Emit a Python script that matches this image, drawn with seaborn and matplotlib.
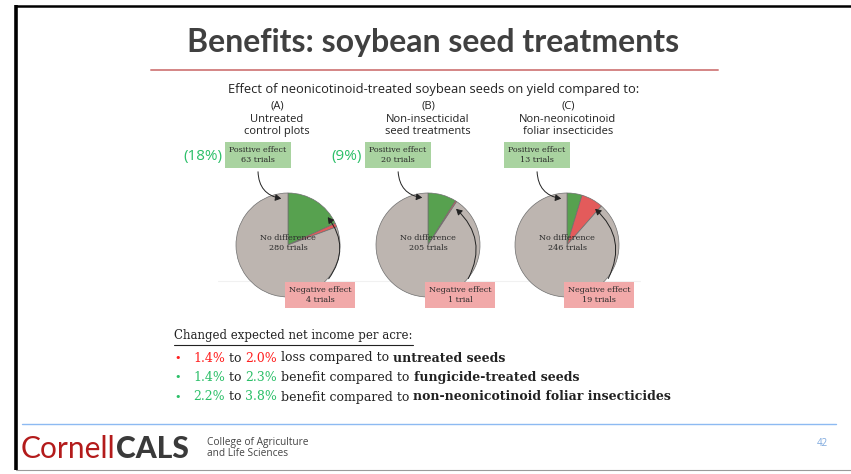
import matplotlib
matplotlib.use("Agg")
import matplotlib.pyplot as plt
from matplotlib.patches import FancyArrowPatch
import seaborn as sns

# ---------------- data ----------------
panel_titles = ["(A)\nUntreated\ncontrol plots",
                "(B)\nNon-insecticidal\nseed treatments",
                "(C)\nNon-neonicotinoid\nfoliar insecticides"]
positive = [63, 20, 13]
no_difference = [280, 205, 246]
negative = [4, 1, 19]
pct_labels = ["(18%)", "(9%)", ""]

title = "Benefits: soybean seed treatments"
subtitle = "Effect of neonicotinoid-treated soybean seeds on yield compared to:"
income_header = "Changed expected net income per acre:"
bullets = [
    [("1.4%", "red"), (" to ", "k"), ("2.0%", "red"), (" loss compared to ", "k"), ("untreated seeds", "kb")],
    [("1.4%", "green"), (" to ", "k"), ("2.3%", "green"), (" benefit compared to ", "k"), ("fungicide-treated seeds", "kb")],
    [("2.2%", "green"), (" to ", "k"), ("3.8%", "green"), (" benefit compared to ", "k"), ("non-neonicotinoid foliar insecticides", "kb")],
]
bullet_colors = ["red", "green", "green"]

# ---------------- style ----------------
sns.set_theme(style="white")
plt.rcParams["font.family"] = ["DejaVu Sans"]

W, H = 851, 474
fig = plt.figure(figsize=(W / 100, H / 100), dpi=100)
ax = fig.add_axes([0, 0, 1, 1])

GREEN = "#57a14f"
RED = "#e35b5b"
GREY = "#bdb5b0"
POS_BOX = "#a9d3a0"
NEG_BOX = "#f1a9a9"
TXT_GREEN = "#2bbf68"
TXT_RED = "#ff1f1f"
col_map = {"red": TXT_RED, "green": TXT_GREEN, "k": "#222222", "kb": "#222222"}

def Y(y):
    return H - y

centers_x = [288, 428, 567]
title_x = [277, 428, 568]
pct_x = [203, 347, 0]
cy = 245
R = 52

for i, cx in enumerate(centers_x):
    vals = [positive[i], negative[i], no_difference[i]]
    ax.pie(vals, colors=[GREEN, RED, GREY], startangle=90, counterclock=False,
           center=(cx, Y(cy)), radius=R, frame=True,
           wedgeprops=dict(edgecolor="#6e6e6e", linewidth=0.5))
    ax.text(cx, Y(cy - 2), f"No difference\n{no_difference[i]} trials", ha="center", va="center",
            fontsize=5.8, family="DejaVu Serif", color="#2a2a2a", linespacing=1.3)
    ax.text(cx - 30, Y(155), f"Positive effect\n{positive[i]} trials", ha="center", va="center",
            fontsize=5.8, family="DejaVu Serif", color="#2a2a2a", linespacing=1.3,
            bbox=dict(boxstyle="square,pad=0.5", fc=POS_BOX, ec="none"))
    trial_word = "trial" if negative[i] == 1 else "trials"
    ax.text(cx + 32, Y(295), f"Negative effect\n{negative[i]} {trial_word}", ha="center", va="center",
            fontsize=5.8, family="DejaVu Serif", color="#2a2a2a", linespacing=1.3,
            bbox=dict(boxstyle="square,pad=0.5", fc=NEG_BOX, ec="none"))
    ax.text(title_x[i], Y(119), panel_titles[i], ha="center", va="center",
            fontsize=8, family="Open Sans", color="#222222", linespacing=1.2)
    if pct_labels[i]:
        ax.text(pct_x[i], Y(156), pct_labels[i], ha="center", va="center",
                fontsize=11, family="Open Sans", color=TXT_GREEN)

# arrows
pos_arrows = [((258, 169), (284, 199)), ((398, 169), (425, 198)), ((537, 169), (564, 199))]
neg_arrows = [((327, 281), (326, 215)), ((467, 281), (454, 207)), ((607, 281), (593, 207))]
for (s, e) in pos_arrows:
    ax.add_patch(FancyArrowPatch((s[0], Y(s[1])), (e[0], Y(e[1])), connectionstyle="arc3,rad=0.45",
                                 arrowstyle="-|>,head_length=3.5,head_width=2", color="#222222", lw=0.7))
for (s, e) in neg_arrows:
    ax.add_patch(FancyArrowPatch((s[0], Y(s[1])), (e[0], Y(e[1])), connectionstyle="arc3,rad=0.4",
                                 arrowstyle="-|>,head_length=3.5,head_width=2", color="#222222", lw=0.7))

ax.set_xlim(0, W)
ax.set_ylim(0, H)
ax.set_aspect("auto")
ax.axis("off")

ax.plot([218, 640], [Y(281), Y(281)], color="#f1f1f1", lw=0.8, zorder=0)

# title
ax.text(433, Y(42), title, ha="center", va="center", fontsize=23, family="Lato",
        fontweight="bold", color="#404040")
ax.plot([151, 718], [Y(70), Y(70)], color="#d48585", lw=1.4)
ax.text(434, Y(89), subtitle, ha="center", va="center", fontsize=9.3, family="Open Sans", color="#222222")

# income header with underline
hdr = ax.text(174, Y(336), income_header, ha="left", va="center", fontsize=8.5,
              family="DejaVu Serif", color="#222222")
fig.canvas.draw()
rend = fig.canvas.get_renderer()
bb = hdr.get_window_extent(rend)
ax.plot([bb.x0, bb.x1], [Y(345), Y(345)], color="#222222", lw=0.8)

# bullets
for j, segs in enumerate(bullets):
    yb = 358 + j * 19.5
    ax.text(178, Y(yb), "•", ha="center", va="center", fontsize=8,
            color=col_map[bullet_colors[j]])
    prev = None
    for txt, c in segs:
        kw = dict(fontsize=9, family="DejaVu Serif", color=col_map[c],
                  fontweight="bold" if c == "kb" else "normal")
        if prev is None:
            prev = ax.text(193, Y(yb), txt, ha="left", va="center", **kw)
        else:
            prev = ax.annotate(txt, xy=(1, 0.5), xycoords=prev, ha="left", va="center", **kw)

# footer
ax.plot([22, 836], [Y(424), Y(424)], color="#8dbaf2", lw=1.0)
c1 = ax.text(21, Y(449), "Cornell", ha="left", va="center", fontsize=21.5, family="Lato",
             fontweight="normal", color="#b31b1b")
ax.annotate("CALS", xy=(1, 0.5), xycoords=c1, ha="left", va="center", fontsize=21.5,
            family="Lato", fontweight="black", color="#3a3a3a")
ax.text(207, Y(448), "College of Agriculture\nand Life Sciences", ha="left", va="center",
        fontsize=7.3, family="Open Sans", color="#444444", linespacing=1.1)
ax.text(822, Y(443), "42", ha="center", va="center", fontsize=7, family="Open Sans", color="#7ea9de")

# slide border
ax.plot([16, 16], [Y(5), Y(470)], color="black", lw=2.6, solid_capstyle="butt")
ax.plot([15, W], [Y(5.5), Y(5.5)], color="black", lw=1.8, solid_capstyle="butt")
ax.plot([16, W], [Y(470), Y(470)], color="#9a9a9a", lw=0.8)

fig.savefig("out.png", dpi=100)
